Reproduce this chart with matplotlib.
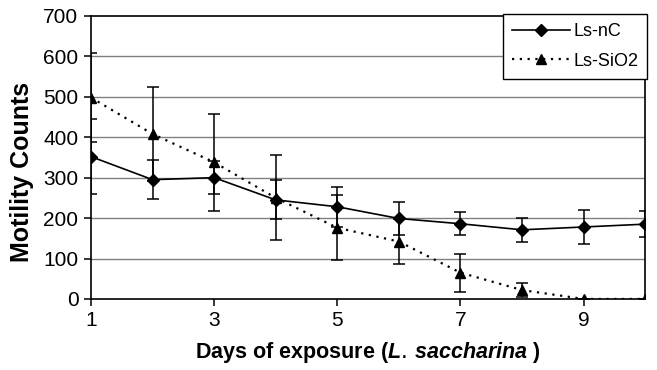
import numpy as np
import matplotlib.pyplot as plt
from matplotlib.lines import Line2D

plt.rcParams['font.family'] = ['Liberation Sans', 'DejaVu Sans']
plt.rcParams['mathtext.fontset'] = 'custom'
plt.rcParams['mathtext.it'] = 'Liberation Sans:italic:bold'

days = [1, 2, 3, 4, 5, 6, 7, 8, 9, 10]
nc_counts = [352, 295, 300, 245, 228, 199, 186, 171, 178, 185]
nc_err = [92, 48, 41, 48, 50, 42, 29, 30, 42, 32]
sio2_counts = [498, 408, 338, 250, 176, 142, 65, 22, 0, 0]
sio2_err = [110, 117, 120, 105, 80, 56, 47, 17, 0, 0]

fig = plt.figure(figsize=(6.57, 3.70), dpi=100)
ax = fig.add_axes([0.1385, 0.192, 0.8435, 0.765])

# horizontal grid lines
for y in range(100, 700, 100):
    ax.axhline(y, color='#808080', lw=1.0, zorder=0)

nc_style = dict(color='black', lw=1.2, marker='D', markersize=6)
sio2_style = dict(color='black', lw=1.6, ls=(0, (1, 2.5)), marker='^', markersize=7.5)

ax.errorbar(days, nc_counts, yerr=nc_err, capsize=4.5, elinewidth=1.1,
            capthick=1.1, zorder=3, **nc_style)
ax.errorbar(days, sio2_counts, yerr=sio2_err, capsize=4.5, elinewidth=1.1,
            capthick=1.1, zorder=3, **sio2_style)

ax.set_xlim(1, 10)
ax.set_ylim(0, 700)
ax.set_xticks([1, 3, 5, 7, 9])
ax.set_yticks(range(0, 800, 100))
ax.tick_params(labelsize=15, direction='out', length=5, width=1.1, pad=4)
for s in ax.spines.values():
    s.set_linewidth(1.2)
    s.set_color('black')

ax.set_ylabel('Motility Counts', fontsize=18, fontweight='bold')
ax.yaxis.set_label_coords(-0.102, 0.45)
ax.set_xlabel(r'Days of exposure ($\mathit{L.\,saccharina}$ )',
              fontsize=15.5, fontweight='bold', labelpad=7)

handles = [Line2D([], [], **nc_style), Line2D([], [], **sio2_style)]
leg = ax.legend(handles, ['Ls-nC', 'Ls-SiO2'], loc='upper right',
                bbox_to_anchor=(0.985, 0.962), bbox_transform=fig.transFigure,
                fontsize=13, fancybox=False, edgecolor='black', framealpha=1,
                handlelength=3.2, borderpad=0.5, labelspacing=0.7,
                handletextpad=0.2, borderaxespad=0)
leg.get_frame().set_linewidth(1.0)

fig.savefig('out.png', dpi=100)
